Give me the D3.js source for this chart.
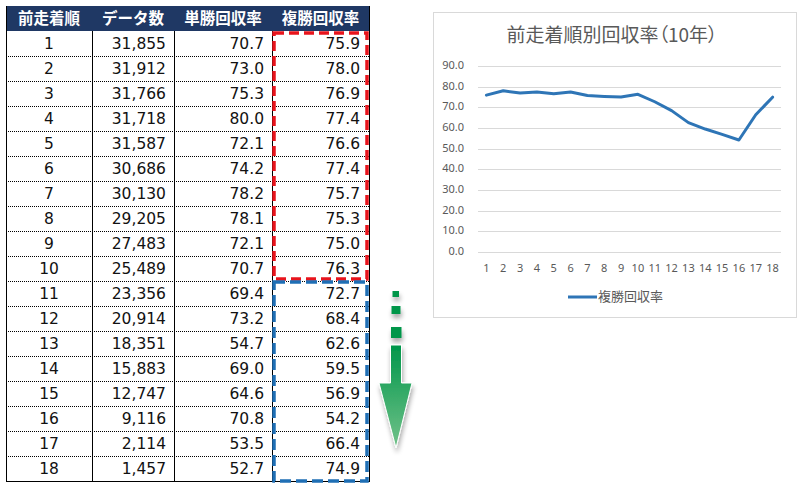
<!DOCTYPE html>
<html>
<head>
<meta charset="utf-8">
<script src="https://cdn.jsdelivr.net/npm/d3@7"></script>
<style>
  body { margin: 0; background: #fff; }
  svg { display: block; }
</style>
</head>
<body>
<svg id="chart" width="803" height="486"></svg>
<script>
// table data
var headers = ["前走着順", "データ数", "単勝回収率", "複勝回収率"];
var ranks = ["1","2","3","4","5","6","7","8","9","10","11","12","13","14","15","16","17","18"];
var counts = ["31,855","31,912","31,766","31,718","31,587","30,686","30,130","29,205","27,483","25,489","23,356","20,914","18,351","15,883","12,747","9,116","2,114","1,457"];
var winReturn = ["70.7","73.0","75.3","80.0","72.1","74.2","78.2","78.1","72.1","70.7","69.4","73.2","54.7","69.0","64.6","70.8","53.5","52.7"];
var placeReturn = [75.9, 78.0, 76.9, 77.4, 76.6, 77.4, 75.7, 75.3, 75.0, 76.3, 72.7, 68.4, 62.6, 59.5, 56.9, 54.2, 66.4, 74.9];

// chart data
var chartTitle = "前走着順別回収率（10年）";
var seriesName = "複勝回収率";
var yTicks = [0, 10, 20, 30, 40, 50, 60, 70, 80, 90];

var svg = d3.select("#chart");
var jp = "'Noto Sans CJK JP', sans-serif";
var num = "'DejaVu Sans', sans-serif";

// ---------- table ----------
var colEdges = [6, 92, 174, 272, 369];
var headTop = 6, headBottom = 31, rowH = 25;
var tableBottom = headBottom + rowH * ranks.length;

var rowY = d3.scaleBand().domain(ranks).range([headBottom, tableBottom]);

svg.append("rect")
  .attr("x", colEdges[0]).attr("y", headTop)
  .attr("width", colEdges[4] - colEdges[0]).attr("height", headBottom - headTop)
  .attr("fill", "#1f3864");

svg.selectAll(".head-text")
  .data(headers)
  .enter().append("text")
    .attr("x", function(d, i) { return (colEdges[i] + colEdges[i + 1]) / 2; })
    .attr("y", (headTop + headBottom) / 2 + 1)
    .attr("text-anchor", "middle")
    .attr("dominant-baseline", "middle")
    .style("font-family", jp)
    .style("font-weight", "bold")
    .style("font-size", "15.5px")
    .attr("fill", "#fff")
    .text(function(d) { return d; });

// dotted row separators
svg.selectAll(".row-sep")
  .data(ranks.slice(1))
  .enter().append("line")
    .attr("x1", colEdges[0]).attr("x2", colEdges[4])
    .attr("y1", function(d) { return rowY(d) + 0.5; })
    .attr("y2", function(d) { return rowY(d) + 0.5; })
    .attr("stroke", "#000")
    .attr("stroke-width", 1)
    .attr("stroke-dasharray", "1,1");

// vertical lines
svg.selectAll(".col-line")
  .data(colEdges)
  .enter().append("line")
    .attr("x1", function(d) { return d + 0.5; })
    .attr("x2", function(d) { return d + 0.5; })
    .attr("y1", function(d, i) { return (i === 0 || i === 4) ? headTop : headBottom; })
    .attr("y2", tableBottom)
    .attr("stroke", "#000")
    .attr("stroke-width", 1);

svg.append("line")
  .attr("x1", colEdges[0]).attr("x2", colEdges[4] + 1)
  .attr("y1", tableBottom + 0.5).attr("y2", tableBottom + 0.5)
  .attr("stroke", "#000");

var columns = [
  { values: ranks, x: (colEdges[0] + colEdges[1]) / 2, anchor: "middle" },
  { values: counts, x: 166, anchor: "end" },
  { values: winReturn, x: 264, anchor: "end" },
  { values: placeReturn.map(function(v) { return v.toFixed(1); }), x: 360, anchor: "end" }
];

columns.forEach(function(col) {
  svg.selectAll(null)
    .data(col.values)
    .enter().append("text")
      .attr("x", col.x)
      .attr("y", function(d, i) { return rowY(ranks[i]) + rowH / 2 + 1; })
      .attr("text-anchor", col.anchor)
      .attr("dominant-baseline", "middle")
      .style("font-family", num)
      .style("font-size", "15.5px")
      .attr("fill", "#111")
      .text(function(d) { return d; });
});

// dashed highlight boxes
svg.append("rect")
  .attr("x", 274).attr("y", headBottom + 2)
  .attr("width", 93).attr("height", rowY("11") - headBottom - 4)
  .attr("fill", "none")
  .attr("stroke", "#e8141c")
  .attr("stroke-width", 3.5)
  .attr("stroke-dasharray", "10,5");

svg.append("rect")
  .attr("x", 274).attr("y", rowY("11") + 1)
  .attr("width", 93).attr("height", tableBottom - rowY("11") - 1)
  .attr("fill", "none")
  .attr("stroke", "#1f6fb5")
  .attr("stroke-width", 3.5)
  .attr("stroke-dasharray", "11,5");

// ---------- green arrow ----------
var defs = svg.append("defs");
var grad = defs.append("linearGradient")
  .attr("id", "arrowGrad").attr("x1", 0).attr("y1", 0).attr("x2", 0).attr("y2", 1);
grad.append("stop").attr("offset", "0%").attr("stop-color", "#00964a");
grad.append("stop").attr("offset", "100%").attr("stop-color", "#72c28a");

var shadow = defs.append("filter").attr("id", "arrowShadow")
  .attr("x", "-50%").attr("y", "-20%").attr("width", "200%").attr("height", "150%");
shadow.append("feGaussianBlur").attr("in", "SourceAlpha").attr("stdDeviation", 2.5);
shadow.append("feOffset").attr("dx", 1).attr("dy", 4).attr("result", "blur");
shadow.append("feComponentTransfer").append("feFuncA").attr("type", "linear").attr("slope", 0.35);
var merge = shadow.append("feMerge");
merge.append("feMergeNode");
merge.append("feMergeNode").attr("in", "SourceGraphic");

var arrow = svg.append("g").attr("filter", "url(#arrowShadow)");
var dashes = [[392.5, 291, 6.5, 6], [391.5, 306, 9, 8], [391, 327, 10.5, 11]];
arrow.selectAll(".arrow-dash")
  .data(dashes)
  .enter().append("rect")
    .attr("x", function(d) { return d[0]; })
    .attr("y", function(d) { return d[1]; })
    .attr("width", function(d) { return d[2]; })
    .attr("height", function(d) { return d[3]; })
    .attr("fill", "#00964a");
arrow.append("path")
  .attr("d", "M390.5,345 L401.5,345 L401.5,383 L412,383 L396,448 L379,383 L390.5,383 Z")
  .attr("fill", "url(#arrowGrad)")
  .attr("stroke", "#fff")
  .attr("stroke-width", 1);

// ---------- line chart ----------
svg.append("rect")
  .attr("x", 433.5).attr("y", 12.5)
  .attr("width", 363).attr("height", 305)
  .attr("fill", "#fff")
  .attr("stroke", "#d9d9d9")
  .attr("stroke-width", 1);

svg.append("text")
  .attr("x", 612).attr("y", 42)
  .attr("text-anchor", "middle")
  .style("font-family", jp)
  .style("font-size", "19px")
  .style("font-feature-settings", "'palt' 1")
  .attr("fill", "#595959")
  .text(chartTitle);

var x = d3.scaleBand().domain(ranks).range([478, 781]);
var y = d3.scaleLinear().domain([0, 90]).range([252, 66]);

svg.append("g")
  .selectAll("line")
  .data(yTicks)
  .enter().append("line")
    .attr("x1", 478).attr("x2", 781)
    .attr("y1", function(d) { return Math.round(y(d)) + 0.5; })
    .attr("y2", function(d) { return Math.round(y(d)) + 0.5; })
    .attr("stroke", "#d9d9d9")
    .attr("stroke-width", 1);

svg.append("g")
  .selectAll("text")
  .data(yTicks)
  .enter().append("text")
    .attr("x", 464)
    .attr("y", function(d) { return y(d); })
    .attr("text-anchor", "end")
    .attr("dominant-baseline", "middle")
    .style("font-family", "'Noto Sans', sans-serif")
    .style("font-size", "11px")
    .attr("fill", "#595959")
    .text(function(d) { return d.toFixed(1); });

svg.append("g")
  .selectAll("text")
  .data(ranks)
  .enter().append("text")
    .attr("x", function(d) { return x(d) + x.bandwidth() / 2; })
    .attr("y", 269)
    .attr("text-anchor", "middle")
    .attr("dominant-baseline", "middle")
    .style("font-family", "'Noto Sans', sans-serif")
    .style("font-size", "11px")
    .attr("fill", "#595959")
    .text(function(d) { return d; });

var line = d3.line()
  .x(function(d, i) { return x(ranks[i]) + x.bandwidth() / 2; })
  .y(function(d) { return y(d); });

svg.append("path")
  .datum(placeReturn)
  .attr("d", line)
  .attr("fill", "none")
  .attr("stroke", "#2e75b6")
  .attr("stroke-width", 3)
  .attr("stroke-linejoin", "round")
  .attr("stroke-linecap", "round");

// legend
svg.append("line")
  .attr("x1", 568).attr("x2", 597)
  .attr("y1", 297).attr("y2", 297)
  .attr("stroke", "#2e75b6")
  .attr("stroke-width", 3);
svg.append("text")
  .attr("x", 598).attr("y", 297)
  .attr("dominant-baseline", "middle")
  .style("font-family", jp)
  .style("font-size", "13px")
  .attr("fill", "#595959")
  .text(seriesName);
</script>
</body>
</html>
